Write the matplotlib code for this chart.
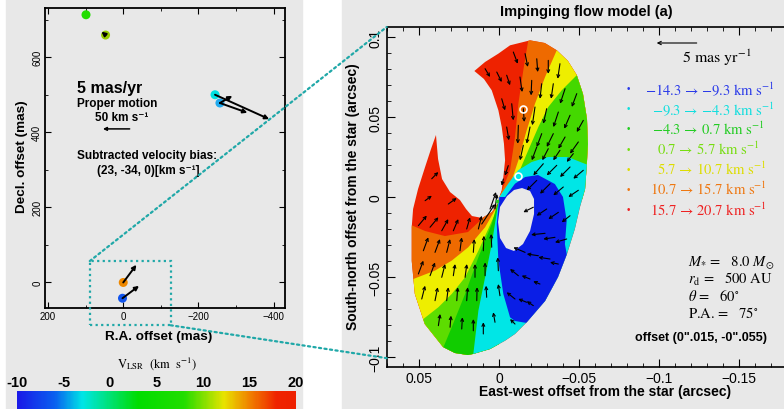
import numpy as np
import matplotlib
matplotlib.use('Agg')
import matplotlib.pyplot as plt
from matplotlib.patches import Polygon, Rectangle, ConnectionPatch
from matplotlib.colors import LinearSegmentedColormap
from matplotlib.ticker import MultipleLocator, FuncFormatter

plt.rcParams['font.family'] = ['Liberation Sans', 'DejaVu Sans']
plt.rcParams['mathtext.fontset'] = 'stix'

# ---------------- left panel data (mas) ----------------
spot_ra = [99, 47, -244, -257, 0, 2]
spot_dec = [713, 659, 500, 478, 0, -42]
spot_color = ['#22dd00', '#99cc00', '#00e0e0', '#22aaee', '#ee8800', '#1155ee']

pm_ra0 = [47, -244, -257, -257, 0, 2]
pm_dec0 = [659, 500, 478, 478, 0, -42]
pm_ra1 = [58, -388, -330, -290, -35, -42]
pm_dec1 = [668, 435, 452, 497, 47, -9]

scale_ra = [-17, 54]
scale_dec = [409, 409]
zoom_ra = [89, -126]
zoom_dec = [57, -114]

# colour bar
cbar_ticks = [-10, -5, 0, 5, 10, 15, 20]
cbar_vals = [-10, -6, -3, 3, 8, 12.3, 15, 18, 20]
cbar_cols = ['#1a1ae8', '#0a60f0', '#00e6e6', '#00dd00', '#22dd00', '#e8e400', '#f08400', '#f02400', '#ee2000']

# ---------------- right panel data (mas) ----------------
vel_lo = [-14.3, -9.3, -4.3, 0.7, 5.7, 10.7, 15.7]
vel_hi = [-9.3, -4.3, 0.7, 5.7, 10.7, 15.7, 20.7]
vel_col = ['#2a3ae8', '#10dede', '#22cc22', '#77dd11', '#dddd00', '#ee7711', '#ee2222']
vel_text_x = [645, 651.7, 651.7, 656.7, 656.7, 650, 650]

c_red, c_orange, c_yellow = '#ee2200', '#ee6a00', '#eeee00'
c_yg, c_yg_up, c_green = '#5ddd00', '#44d800', '#11cc00'
c_cyan, c_blue = '#00e6e6', '#0a1ee6'

shape_outline = [
    (0, 0), (-1.5, 4.2), (-2.5, 12.5), (-3.6, 22.9), (-2.9, 33.3), (-1.5, 43.8), (0.6, 54.2),
    (4.75, 66.7), (9.6, 73.75), (15.6, 78.75), (8.9, 84.4), (0.6, 89.6), (-6.7, 94.8),
    (-19.2, 97.9), (-28.4, 96.25), (-35.9, 91.7), (-42.9, 85), (-48.4, 76.25), (-52.3, 64.4),
    (-54.8, 48.75), (-55.4, 33.1), (-54.6, 18.75), (-53.6, 5), (-50.4, -6.25), (-47.2, -20),
    (-42.3, -35.6), (-36.7, -50), (-28.6, -65), (-17.3, -78.1), (-9.8, -85.6), (-3.6, -89.8),
    (5.8, -95), (16.4, -98.1), (19.7, -98.75), (27.8, -97.5), (35.2, -93.75), (46.6, -79.4),
    (52.8, -60.6), (54.75, -40), (54.75, -18.75), (53.9, -7.5), (50.8, 5), (46.4, 18.75),
    (42.7, 30), (39.6, 38.75), (38.3, 23.75), (35.8, 11.25), (30.8, 3.1), (24.6, -1.9),
    (20.8, -7.5), (17.1, -11.9), (10.8, -13.1), (4.6, -9.4), (0.8, -3.75)]
hole_outline = [
    (-4.8, 0.6), (-9.2, 4.4), (-14.2, 5.6), (-19.2, 3.75), (-21.7, -1.25), (-21.7, -10.6),
    (-19.2, -21.25), (-14.8, -29.4), (-9.2, -33.75), (-4.2, -31.9), (-0.4, -25.6),
    (0.8, -15.6), (-0.4, -6.25)]

# colour boundaries, starting at the apex
b_ro_up = [(0, 0), (-6.7, 16.7), (-9.8, 37.5), (-11.9, 58.3), (-15, 79.2), (-18.1, 97.9), (-19, 115)]
b_oy_up = [(0, 0), (-7.75, 10.4), (-11.9, 22.9), (-17.1, 41.7), (-22.3, 58.3), (-28.6, 75),
           (-35.9, 91.7), (-45, 110)]
b_yg_up = [(0, 0), (-6.7, 4.2), (-11.9, 14.6), (-18.1, 29.2), (-24.4, 43.75), (-30.6, 56.25),
           (-39, 66.7), (-48.4, 76.1), (-65, 85)]
b_gc_up = [(0, 0), (-5.4, 8.1), (-11.7, 16.7), (-20.25, 21.9), (-30.4, 25), (-42.8, 25),
           (-53.4, 20.8), (-70, 15)]
b_ro_low = [(0, 0), (8.3, -11.25), (19.6, -21.9), (34, -24.4), (46.4, -21.25), (55.2, -17.5), (70, -14)]
b_oy_low = [(0, 0), (0.6, -4.4), (8.9, -18.9), (19.4, -31.4), (29.75, -39.75), (40.2, -46),
            (53.75, -51.25), (70, -57)]
b_yg_low = [(0, 0), (2.7, -10.6), (13.1, -33.6), (21.4, -50.2), (29.75, -60.6), (38.1, -68.9),
            (47.5, -76.25), (60, -88)]
b_gg_low = [(0, 0), (4.75, -16.9), (13.1, -37.7), (21.4, -60.6), (29.75, -81.4), (35, -94), (40, -110)]
b_gc_low = [(0, 0), (4.75, -29.4), (8.9, -50.2), (13.1, -71.1), (16.25, -98.1), (17, -115)]
blue_outline = [(0, 0), (1.6, -16.9), (0.6, -39.8), (-2.5, -60.6), (-6.7, -75.2), (-9.8, -77.5),
                (-17.3, -78.75), (-32, -72), (-45, -52), (-41, -29.4), (-42.1, -14.8),
                (-39.8, 0), (-34.75, 8.1), (-24.2, 13.75), (-16.1, 12.5), (-9.8, 8.3), (-3.6, 0)]

# velocity vectors: (x, y, dx, dy) in mas
arrows_upper = [
    (8.9, 80.2, -3.1, -5.2), (1.6, 78.1, -3.1, -6.25), (-4.6, 76.1, -2.1, -6.25),
    (-1.5, 61.4, -2.1, -7.25), (-4.6, 43.75, -1.4, -8.3), (-8.75, 90.6, -2.75, -7.3),
    (-16.1, 89.6, -1.7, -8.3), (-23.4, 86.4, -0.6, -8.3), (-30.6, 85.4, 0, -8.4),
    (-37.9, 83.3, 1.4, -9.4), (-12.9, 75, -1.4, -9.4), (-20.25, 72.9, 0.4, -9.4),
    (-26.5, 70.8, 1.1, -9.4), (-33.75, 70.8, 1.4, -9.4), (-41.1, 67.7, 3.1, -9.4),
    (-48.4, 64.6, 3.1, -8.3), (-7.75, 58.3, -1, -10.4), (-15, 55.2, -0.6, -8.3),
    (-22.3, 56.25, 1.7, -11.4), (-29.6, 55.2, 2.1, -9.4), (-36.9, 53.1, 3.1, -9.4),
    (-44.2, 51.1, 3.6, -8.4), (-52.5, 47.9, 4.1, -7.3), (-11.9, 44.8, 0.4, -11.5),
    (-19.2, 43.75, 2.1, -10.4), (-26.5, 39.6, 3.1, -8.3), (-33.75, 39.6, 4.1, -8.3),
    (-41.1, 37.5, 4.2, -7.3), (-49.4, 34.4, 5.2, -7.3), (-15, 32.3, 2.1, -9.4),
    (-23.4, 31.25, 3.1, -8.3), (-30.6, 30.2, 3.75, -7.25), (-37.9, 29.2, 4.2, -6.25),
    (-46.25, 27.1, 4.1, -5.2), (-27.5, 20.8, 6.25, -7.25), (-35.9, 19.8, 6.25, -6.25),
    (-44.2, 18.75, 6.25, -6.25), (-52.5, 16.7, 6.25, -5.25), (-23.4, 10.4, 6.25, -6.25),
    (-31.7, 8.3, 6.25, -6.25), (-40, 6.25, 6.25, -5.2), (-49.4, 4.2, 6.25, -4.2),
    (-2.5, 11.25, 1, -4.2), (-5.6, 19.6, 2.1, -6.25)]
arrows_blue = [
    (-44.2, -11.7, 5.2, -4.1), (-29.6, -7.5, 6.25, -4.2), (-36.9, -9.6, 6.25, -4.2),
    (-28.6, -22.7, 8.75, -0.9), (-34.8, -25.2, 7.3, -1.1), (-42.1, -26.25, 7.3, -2.1),
    (-16.1, -34.6, 7.3, 3.1), (-24.4, -36.7, 7.25, 1.1), (-31.7, -38.75, 7.3, 1.1),
    (-36.9, -41.9, 5.2, 1.1), (-11.9, -49.2, 5.2, 4.2), (-19.2, -51.25, 5.2, 2.1),
    (-25.4, -54.4, 4.2, 1.7), (-9.8, -63.75, 5.2, 4.2), (-17.1, -65.8, 5.25, 2.1),
    (-21.25, -67.9, 4.1, 2.75), (-9.8, -79.4, 3.1, 3.1), (-21.25, -6.4, 6.25, -3.1)]
arrows_lower = [
    (46.4, -2.3, -4.2, 3.1), (31.9, -4.4, -5.25, 3.75), (50.6, -17.9, -5.25, 6.25),
    (43.3, -18.9, -5.2, 6.25), (36, -21.1, -4.1, 7.3), (28.75, -21.1, -3.1, 7.3),
    (20.4, -20, -2.1, 7.3), (13.1, -20, -2.1, 8.3), (47.5, -33.6, -3.1, 8.4),
    (40.2, -34.6, -3.1, 8.3), (32.9, -34.6, -2.1, 8.3), (24.6, -33.6, -1.1, 8.4),
    (16.25, -34.6, -0.6, 8.3), (10, -33.6, -0.4, 9.4), (4.75, -31.4, 0.4, 8.3),
    (50.6, -48.1, -3.1, 8.3), (43.3, -49.2, -3.1, 8.3), (36, -50.2, -2.1, 8.3),
    (28.75, -49.2, -1.1, 7.3), (21.4, -50.2, -1.1, 8.3), (15.2, -50.2, 0, 8.3),
    (8.9, -49.2, 0, 8.3), (0.6, -46.1, 0.4, 8.4), (48.5, -63.75, -2.1, 8.3),
    (40.2, -64.8, -1.7, 8.4), (32.9, -64.8, -1, 8.4), (26.6, -64.8, -0.6, 8.4),
    (20.4, -64.8, -0.6, 8.4), (14.1, -64.8, -0.2, 8.4), (7.9, -62.7, 0.4, 7.25),
    (-0.4, -61.7, 1.1, 7.3), (38.1, -80.4, -1.1, 7.3), (30.8, -81.4, -0.6, 7.25),
    (23.5, -82.5, -0.4, 7.3), (16.25, -83.6, 0, 7.3), (10, -85.6, 0, 7.3),
    (2.7, -78.3, 1.1, 6.25), (42.25, 11.4, -4.1, 4.2), (11, -16.9, -8.3, 12.5),
    (5.8, -7.5, -3.75, 10.6), (2.7, -7.5, -1.25, 9.4)]

model_circles_x = [-15, -11.9]
model_circles_y = [55, 13.3]

# ---------------- figure ----------------
W, H = 784, 410
bg = '#e8e8e8'
teal = '#20a8a8'
fig = plt.figure(figsize=(W / 100, H / 100), dpi=100)


def px_box(l, t, r, b):
    return [l / W, 1 - b / H, (r - l) / W, (b - t) / H]


def fx(x):
    return x / W


def fy(y):
    return 1 - y / H


def minus(s):
    return s.replace('-', '\u2212')


fig.add_artist(Rectangle((fx(6), 0), (302 - 6) / W, 1, transform=fig.transFigure,
                         color=bg, zorder=-5))
fig.add_artist(Rectangle((fx(342), 0), (W - 342) / W, 1, transform=fig.transFigure,
                         color=bg, zorder=-5))

# ---- left panel ----
axl = fig.add_axes(px_box(45, 9, 285, 309))
axl.set_facecolor('none')
axl.set_xlim(208, -430)
axl.set_ylim(-68, 731)
axl.xaxis.set_major_locator(MultipleLocator(200))
axl.xaxis.set_minor_locator(MultipleLocator(100))
axl.yaxis.set_major_locator(MultipleLocator(200))
axl.yaxis.set_minor_locator(MultipleLocator(100))
axl.tick_params(which='both', direction='in', top=True, right=True, labelsize=7, pad=2)
axl.tick_params(which='major', length=4)
axl.tick_params(which='minor', length=2)
axl.tick_params(axis='y', labelrotation=90)
for lab in axl.get_yticklabels():
    lab.set_va('center')
for s in axl.spines.values():
    s.set_linewidth(1.3)

for i in range(len(pm_ra0)):
    axl.annotate('', xy=(pm_ra1[i], pm_dec1[i]), xytext=(pm_ra0[i], pm_dec0[i]),
                 arrowprops=dict(arrowstyle='-|>', lw=1.4, color='k', mutation_scale=6,
                                 shrinkA=0, shrinkB=0), zorder=4)
axl.scatter(spot_ra, spot_dec, s=42, c=spot_color, zorder=3, linewidths=0)
axl.annotate('', xy=(scale_ra[1], scale_dec[1]), xytext=(scale_ra[0], scale_dec[0]),
             arrowprops=dict(arrowstyle='-|>', lw=1.1, color='k', mutation_scale=5,
                             shrinkA=0, shrinkB=0))
axl.add_patch(Rectangle((zoom_ra[0], zoom_dec[1]), zoom_ra[1] - zoom_ra[0],
                        zoom_dec[0] - zoom_dec[1], fill=False, ls=(0, (1, 1.5)),
                        lw=1.6, ec=teal, clip_on=False, zorder=5))

fig.text(fx(77), fy(88), '5 mas/yr', fontsize=11.5, fontweight='bold', va='center')
fig.text(fx(77), fy(104), 'Proper motion', fontsize=8.5, fontweight='bold', va='center')
fig.text(fx(95), fy(118), '50 km s\u207b\u00b9', fontsize=8.5, fontweight='bold', va='center')
fig.text(fx(77), fy(156), 'Subtracted velocity bias:', fontsize=8.5, fontweight='bold', va='center')
fig.text(fx(97), fy(171), '(23, -34, 0)[km s\u207b\u00b9]', fontsize=8.5, fontweight='bold',
         va='center')
fig.text(fx(22), fy(157), 'Decl. offset (mas)', fontsize=9.7, fontweight='bold', rotation=90,
         ha='center', va='center')
fig.text(fx(159), fy(337), 'R.A. offset (mas)', fontsize=9.7, fontweight='bold',
         ha='center', va='center')

# ---- colour bar ----
cmap = LinearSegmentedColormap.from_list(
    'vlsr', [((v + 10) / 30, c) for v, c in zip(cbar_vals, cbar_cols)])
cax = fig.add_axes(px_box(17, 391.7, 296, 412))
cax.imshow(np.linspace(-10, 20, 300)[None, :], extent=(-10, 20, 0, 1), aspect='auto',
           cmap=cmap)
cax.set_xlim(-10, 20)
cax.set_yticks([])
cax.xaxis.tick_top()
cax.set_xticks(cbar_ticks)
cax.set_xticklabels([str(t) for t in cbar_ticks], fontsize=10.5, fontweight='bold')
cax.tick_params(axis='x', length=0, pad=1)
for s in cax.spines.values():
    s.set_visible(False)
fig.text(fx(157), fy(364), r'V$_{\rm LSR}$  (km  s$^{-1}$)', family='STIXGeneral',
         fontsize=9, ha='center', va='center')

# ---- right panel ----
axr = fig.add_axes(px_box(386.7, 28, 786, 368))
axr.set_facecolor('none')
axr.set_xlim(0.0704, -0.1792)
axr.set_ylim(-0.10625, 0.10625)
axr.spines['right'].set_visible(False)
for k in ['left', 'top', 'bottom']:
    axr.spines[k].set_linewidth(1.2)
for a in (axr.xaxis, axr.yaxis):
    a.set_major_locator(MultipleLocator(0.05))
    a.set_minor_locator(MultipleLocator(0.01))
    a.set_major_formatter(FuncFormatter(lambda v, p: minus('%g' % round(v, 3))))
axr.tick_params(which='both', direction='in', top=True, right=False, labelsize=10, pad=3)
axr.tick_params(which='major', length=6)
axr.tick_params(which='minor', length=3)
axr.tick_params(axis='y', labelrotation=90)
for lab in axr.get_yticklabels():
    lab.set_va('center')


def arc(pts):
    return np.array(pts, dtype=float) / 1000.0


shape = Polygon(arc(shape_outline), closed=True, fc='none', ec='none')
axr.add_patch(shape)

far = 120
regions = [
    (c_red, [(90, -130), (90, 130), (-100, 130), (-100, -130)]),
    (c_orange, b_ro_up + [(-100, 115), (-100, -3)]),
    (c_yellow, b_oy_up + [(-100, 110), (-100, -3)]),
    (c_yg_up, b_yg_up + [(-100, 85), (-100, -3)]),
    (c_orange, b_ro_low + [(70, -far), (0, -far)]),
    (c_yellow, b_oy_low + [(70, -far), (0, -far)]),
    (c_yg, b_yg_low + [(60, -far), (0, -far)]),
    (c_green, b_gg_low + [(40, -125), (0, -125)]),
    (c_cyan, b_gc_low + [(17, -125), (-100, -125), (-100, 15)] + b_gc_up[::-1][:-1]),
    (c_blue, blue_outline),
]
for col, pts in regions:
    p = Polygon(arc(pts), closed=True, fc=col, ec='none', zorder=1)
    axr.add_patch(p)
    p.set_clip_path(shape)
axr.add_patch(Polygon(arc(hole_outline), closed=True, fc=bg, ec='none', zorder=2))

for group in (arrows_upper, arrows_blue, arrows_lower):
    for x, y, dx, dy in group:
        axr.annotate('', xy=((x + dx) / 1000, (y + dy) / 1000), xytext=(x / 1000, y / 1000),
                     arrowprops=dict(arrowstyle='->', lw=0.8, color='k', mutation_scale=5,
                                     shrinkA=0, shrinkB=0), zorder=3)
axr.plot(np.array(model_circles_x) / 1000, np.array(model_circles_y) / 1000, 'o', mfc='none',
         mec='white', ms=5, mew=1.2, zorder=4)
axr.plot([0.00125], [-0.0025], 's', color='#22cc22', ms=2, zorder=4)

fig.text(fx(586.7), fy(12), 'Impinging flow model (a)', fontsize=10.5, fontweight='bold',
         ha='center', va='center')
fig.text(fx(605), fy(392), 'East-west offset from the star (arcsec)', fontsize=10,
         fontweight='bold', ha='center', va='center')
fig.text(fx(353), fy(197), 'South-north offset from the star (arcsec)', fontsize=10,
         fontweight='bold', rotation=90, ha='center', va='center')

# velocity legend
for i in range(len(vel_lo)):
    y = fy(89.3 + i * 20.1)
    c = vel_col[i]
    fig.text(fx(628.3), y, '\u2022', color=c, fontsize=7, ha='center', va='center')
    label = minus('%.1f' % vel_lo[i]) + ' \u2192 ' + minus('%.1f' % vel_hi[i]) + r' km s$^{-1}$'
    fig.text(fx(vel_text_x[i]), y, label, color=c, fontsize=10.5, family='STIXGeneral',
             ha='left', va='center')

axr.annotate('', xy=(fx(656.7), fy(44)), xytext=(fx(696.7), fy(44)), xycoords='figure fraction',
             textcoords='figure fraction',
             arrowprops=dict(arrowstyle='->', lw=0.8, color='k', mutation_scale=6,
                             shrinkA=0, shrinkB=0))
fig.text(fx(681.7), fy(58), r'5 mas yr$^{-1}$', family='STIXGeneral', fontsize=11.5,
         va='center')

params = [r'$M_{*}$ =   8.0 $M_{\odot}$', r'$r_{\rm d}$ =   500 AU',
          r'$\theta$ =   60$^{\circ}$', r'P.A. =   75$^{\circ}$']
for i, t in enumerate(params):
    fig.text(fx(688), fy(263 + i * 16.7), t, family='STIXGeneral', fontsize=10.5, va='center')
fig.text(fx(635), fy(338), 'offset (0".015, -0".055)', fontsize=9, fontweight='bold',
         va='center')

# zoom connector lines
for pa, pb in [((zoom_ra[0], zoom_dec[0]), (0, 1)), ((zoom_ra[1], zoom_dec[1]), (0, 0.026))]:
    con = ConnectionPatch(xyA=pa, coordsA=axl.transData, xyB=pb, coordsB=axr.transAxes,
                          color=teal, lw=1.6, ls=(0, (1, 1.5)), zorder=6)
    fig.add_artist(con)

fig.savefig('out.png', dpi=100, facecolor='white')
